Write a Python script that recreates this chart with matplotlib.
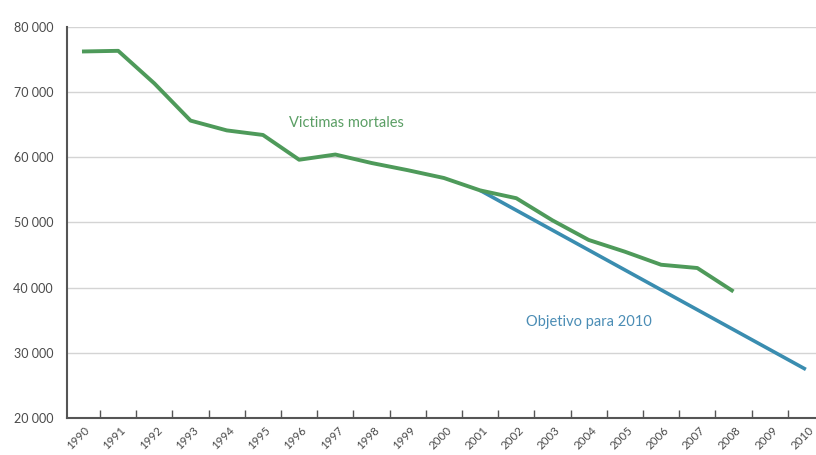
import matplotlib
matplotlib.use("Agg")
import matplotlib.pyplot as plt
import matplotlib.transforms as mtransforms
from matplotlib.ticker import FixedLocator, FuncFormatter

# Road deaths (EU) and the 2010 halving target
years = list(range(1990, 2009))
victims = [76200, 76300, 71300, 65600, 64100, 63400, 59600, 60400, 59100,
           58000, 56800, 54900, 53700, 50300, 47300, 45500, 43500, 43000, 39400]

target_years = [2001, 2010]
target_values = [54900, 27450]

tick_years = list(range(1990, 2011))
y_ticks = [20000, 30000, 40000, 50000, 60000, 70000, 80000]

GREEN = "#4e9a5a"
BLUE = "#3a8db0"
TEXT = "#4a4a4a"

plt.rcParams["font.family"] = ["Lato", "DejaVu Sans"]

fig = plt.figure(figsize=(8.16, 4.55), dpi=100)
ax = fig.add_axes([67 / 816, 37 / 455, 1 - 67 / 816, (418 - 26.7) / 455])

ax.plot(target_years, target_values, color=BLUE, lw=2.6, solid_capstyle="butt", zorder=3)
ax.plot(years, victims, color=GREEN, lw=2.8, solid_joinstyle="round",
        solid_capstyle="butt", zorder=4)

ax.set_xlim(1989.586, 2010.28)
ax.set_ylim(20000, 80000)

# horizontal grid
ax.set_yticks(y_ticks)
ax.yaxis.set_major_formatter(FuncFormatter(lambda v, p: f"{int(v):,}".replace(",", " ")))
ax.grid(axis="y", color="#d4d4d4", lw=1.0)
ax.tick_params(axis="y", length=0, pad=10, labelsize=9, labelcolor=TEXT)

# x ticks between years, labels on the years
ax.xaxis.set_major_locator(FixedLocator([y + 0.5 for y in tick_years[:-1]]))
ax.tick_params(axis="x", which="major", direction="in", length=6, width=1,
               color="#555555", labelbottom=False)
ax.set_xticks(tick_years, [str(y) for y in tick_years], minor=True)
ax.tick_params(axis="x", which="minor", length=0, pad=5, labelsize=8.3,
               labelcolor=TEXT)
offset = mtransforms.ScaledTranslation(2 / 100, 0, fig.dpi_scale_trans)
for lbl in ax.xaxis.get_minorticklabels():
    lbl.set_rotation(45)
    lbl.set_ha("right")
    lbl.set_va("top")
    lbl.set_rotation_mode("anchor")
    lbl.set_transform(lbl.get_transform() + offset)

for side in ("top", "right"):
    ax.spines[side].set_visible(False)
for side in ("left", "bottom"):
    ax.spines[side].set_color("#555555")
    ax.spines[side].set_linewidth(1.5)

ax.text(1997.3, 65250, "Victimas mortales", color="#5a9e64", fontsize=10.5,
        ha="center", va="center")
ax.text(2004.0, 34780, "Objetivo para 2010", color="#4b8db5", fontsize=10.5,
        ha="center", va="center")

fig.savefig("out.png", dpi=100)
